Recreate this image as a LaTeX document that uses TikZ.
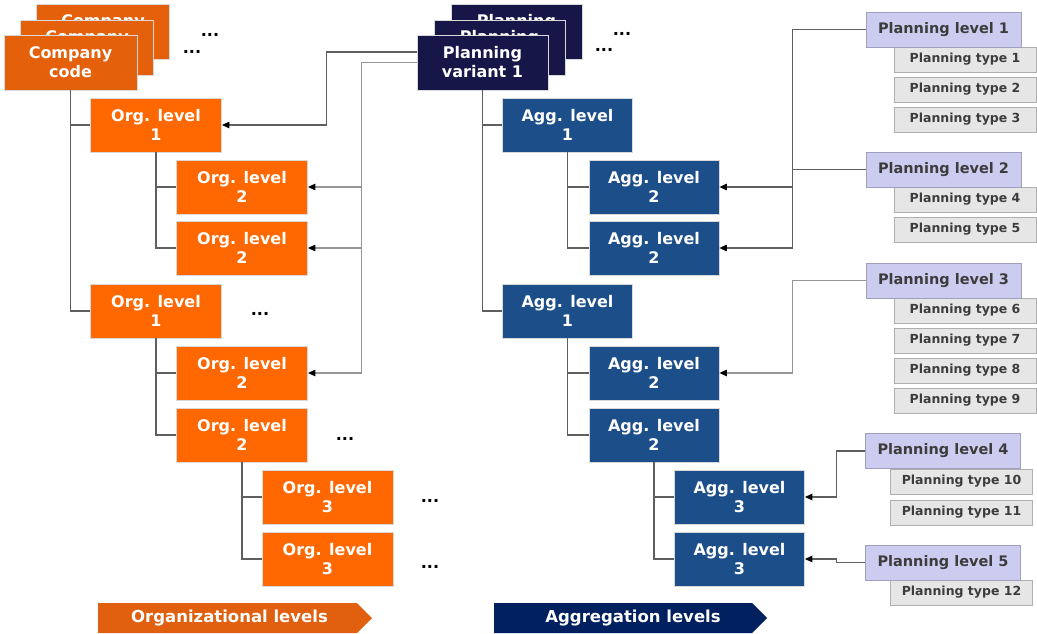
\documentclass[tikz,border=0pt]{standalone}
\usepackage{fontspec}
\setmainfont{DejaVu Sans}
\usetikzlibrary{arrows.meta,calc}
\definecolor{ccorange}{RGB}{228,96,10}
\definecolor{orgorange}{RGB}{255,104,0}
\definecolor{pvnavy}{RGB}{22,22,72}
\definecolor{aggblue}{RGB}{28,78,138}
\definecolor{plfill}{RGB}{204,204,240}
\definecolor{plborder}{RGB}{160,160,190}
\definecolor{ptfill}{RGB}{230,230,230}
\definecolor{ptborder}{RGB}{175,175,175}
\definecolor{ptext}{RGB}{60,60,60}
\definecolor{treeline}{RGB}{95,95,95}
\definecolor{lightline}{RGB}{150,150,150}
\definecolor{orgarrow}{RGB}{224,96,16}
\definecolor{aggarrow}{RGB}{0,32,96}
\begin{document}
\begin{tikzpicture}[x=1pt,y=-1pt,
  bigbox/.style={draw=black!15, line width=0.8pt, text=white, align=center,
    font=\fontsize{16}{19}\selectfont\bfseries, inner sep=0pt},
  ccbox/.style={bigbox, fill=ccorange, minimum width=133pt, minimum height=55pt},
  orgbox/.style={bigbox, fill=orgorange, minimum width=131pt, minimum height=54pt},
  pvbox/.style={bigbox, fill=pvnavy, minimum width=131pt, minimum height=55pt},
  aggbox/.style={bigbox, fill=aggblue, minimum width=130pt, minimum height=54pt},
  backtext/.style={text=white, font=\fontsize{16}{19}\selectfont\bfseries, inner sep=0pt},
  plbox/.style={draw=plborder, line width=0.8pt, fill=plfill, text=ptext,
    font=\fontsize{14.5}{17}\selectfont\bfseries, minimum width=155pt, minimum height=35pt, inner sep=0pt},
  ptbox/.style={draw=ptborder, line width=0.8pt, fill=ptfill, text=ptext,
    font=\fontsize{12.5}{15}\selectfont\bfseries, minimum width=142pt, minimum height=25pt, inner sep=0pt},
  dots/.style={font=\fontsize{16}{19}\selectfont\bfseries, inner sep=0pt, text=black},
  tree/.style={draw=treeline, line width=1.1pt},
  arr/.style={draw=treeline, line width=1.1pt, -{Triangle[length=7.5pt,width=6.5pt,color=black]}},
  arrl/.style={draw=lightline, line width=1.1pt, -{Triangle[length=7.5pt,width=6.5pt,color=black]}},
  band/.style={text=white, font=\fontsize{16.5}{19}\selectfont\bfseries, inner sep=0pt}
]
\useasboundingbox (0,0) rectangle (1037,634);

% --- company codes ---
\node[ccbox] (cc3) at (103,31.5) {};
\node[backtext] (cc3t) at (103,22) {Company};
\node[ccbox] (cc2) at (87,47.5) {};
\node[backtext] (cc2t) at (87,38) {Company};
\node[ccbox] (cc) at (70.5,62.5) {Company\\code};
\node[dots] (d1) at (210,35) {...};
\node[dots] (d2) at (192,52) {...};

% --- planning variants ---
\node[pvbox] (pv3) at (516.5,31.5) {};
\node[backtext] (pv3t) at (516.5,22) {Planning};
\node[pvbox] (pv2) at (499.5,47.5) {};
\node[backtext] (pv2t) at (499.5,38) {Planning};
\node[pvbox] (pv) at (482.5,62.5) {Planning\\variant 1};
\node[dots] (d3) at (622,34) {...};
\node[dots] (d4) at (604,50) {...};

% --- org levels ---
\node[orgbox] (org1a) at (156,125) {Org. level\\1};
\node[orgbox] (org2a) at (242,187) {Org. level\\2};
\node[orgbox] (org2b) at (242,248) {Org. level\\2};
\node[orgbox] (org1b) at (156,311) {Org. level\\1};
\node[orgbox] (org2c) at (242,373) {Org. level\\2};
\node[orgbox] (org2d) at (242,435) {Org. level\\2};
\node[orgbox] (org3a) at (327.5,497) {Org. level\\3};
\node[orgbox] (org3b) at (327.5,559) {Org. level\\3};
\node[dots] (d5) at (260,314) {...};
\node[dots] (d6) at (345,439) {...};
\node[dots] (d7) at (430,501) {...};
\node[dots] (d8) at (430,567) {...};

% --- aggregation levels ---
\node[aggbox] (agg1a) at (567.5,125) {Agg. level\\1};
\node[aggbox] (agg2a) at (654,187) {Agg. level\\2};
\node[aggbox] (agg2b) at (654,248) {Agg. level\\2};
\node[aggbox] (agg1b) at (567.5,311) {Agg. level\\1};
\node[aggbox] (agg2c) at (654,373) {Agg. level\\2};
\node[aggbox] (agg2d) at (654,435) {Agg. level\\2};
\node[aggbox] (agg3a) at (739.5,497) {Agg. level\\3};
\node[aggbox] (agg3b) at (739.5,559) {Agg. level\\3};

% --- planning types ---
\node[ptbox] (pt1) at (965,59.5) {Planning type 1};
\node[ptbox] (pt2) at (965,89.5) {Planning type 2};
\node[ptbox] (pt3) at (965,119.5) {Planning type 3};
\node[ptbox] (pt4) at (965,199.5) {Planning type 4};
\node[ptbox] (pt5) at (965,229.5) {Planning type 5};
\node[ptbox] (pt6) at (965,310.5) {Planning type 6};
\node[ptbox] (pt7) at (965,340.5) {Planning type 7};
\node[ptbox] (pt8) at (965,370.5) {Planning type 8};
\node[ptbox] (pt9) at (965,400.5) {Planning type 9};
\node[ptbox] (pt10) at (961.5,481.5) {Planning type 10};
\node[ptbox] (pt11) at (961.5,512.5) {Planning type 11};
\node[ptbox] (pt12) at (961.5,592.5) {Planning type 12};

% --- planning levels ---
\node[plbox] (pl1) at (943.5,29.5) {Planning level 1};
\node[plbox] (pl2) at (943.5,169.5) {Planning level 2};
\node[plbox] (pl3) at (943.5,280.5) {Planning level 3};
\node[plbox] (pl4) at (943,451) {Planning level 4};
\node[plbox] (pl5) at (943,562.5) {Planning level 5};

% --- tree lines ---
\draw[tree] (cc.south) |- (org1a.west);
\draw[tree] (cc.south) |- (org1b.west);
\draw[tree] (org1a.south) |- (org2a.west);
\draw[tree] (org1a.south) |- (org2b.west);
\draw[tree] (org1b.south) |- (org2c.west);
\draw[tree] (org1b.south) |- (org2d.west);
\draw[tree] (org2d.south) |- (org3a.west);
\draw[tree] (org2d.south) |- (org3b.west);
\draw[tree] (pv.south) |- (agg1a.west);
\draw[tree] (pv.south) |- (agg1b.west);
\draw[tree] (agg1a.south) |- (agg2a.west);
\draw[tree] (agg1a.south) |- (agg2b.west);
\draw[tree] (agg1b.south) |- (agg2c.west);
\draw[tree] (agg1b.south) |- (agg2d.west);
\draw[tree] (agg2d.south) |- (agg3a.west);
\draw[tree] (agg2d.south) |- (agg3b.west);

% --- planning variant connectors ---
\draw[arr] ([yshift=10.5pt]pv.west) -- ++(-90.5,0) |- (org1a.east);
\draw[arrl] (pv.west) -- ++(-55,0) coordinate (pvj) |- (org2a.east);
\draw[arrl] (pvj) |- (org2b.east);
\draw[arrl] (pvj) |- (org2c.east);

% --- planning level connectors ---
\draw[arr] (pl1.west) -- ++(-73,0) coordinate (j1) |- (agg2a.east);
\draw[arr] (j1) |- (agg2b.east);
\draw[tree] (pl2.west) -- (j1 |- pl2.west);
\draw[arrl] (pl3.west) -- ++(-73,0) |- (agg2c.east);
\draw[arr] (pl4.west) -- ++(-29,0) |- (agg3a.east);
\draw[arr] (pl5.west) -- ++(-29,0) |- (agg3b.east);

% --- bottom bands ---
\fill[orgarrow] (98,603) -- (357,603) -- (372,618) -- (357,633) -- (98,633) -- cycle;
\node[band] (orgband) at (229.5,618) {Organizational levels};
\fill[aggarrow] (494,603) -- (752,603) -- (767,618) -- (752,633) -- (494,633) -- cycle;
\node[band] (aggband) at (633,618) {Aggregation levels};
\end{tikzpicture}
\end{document}
